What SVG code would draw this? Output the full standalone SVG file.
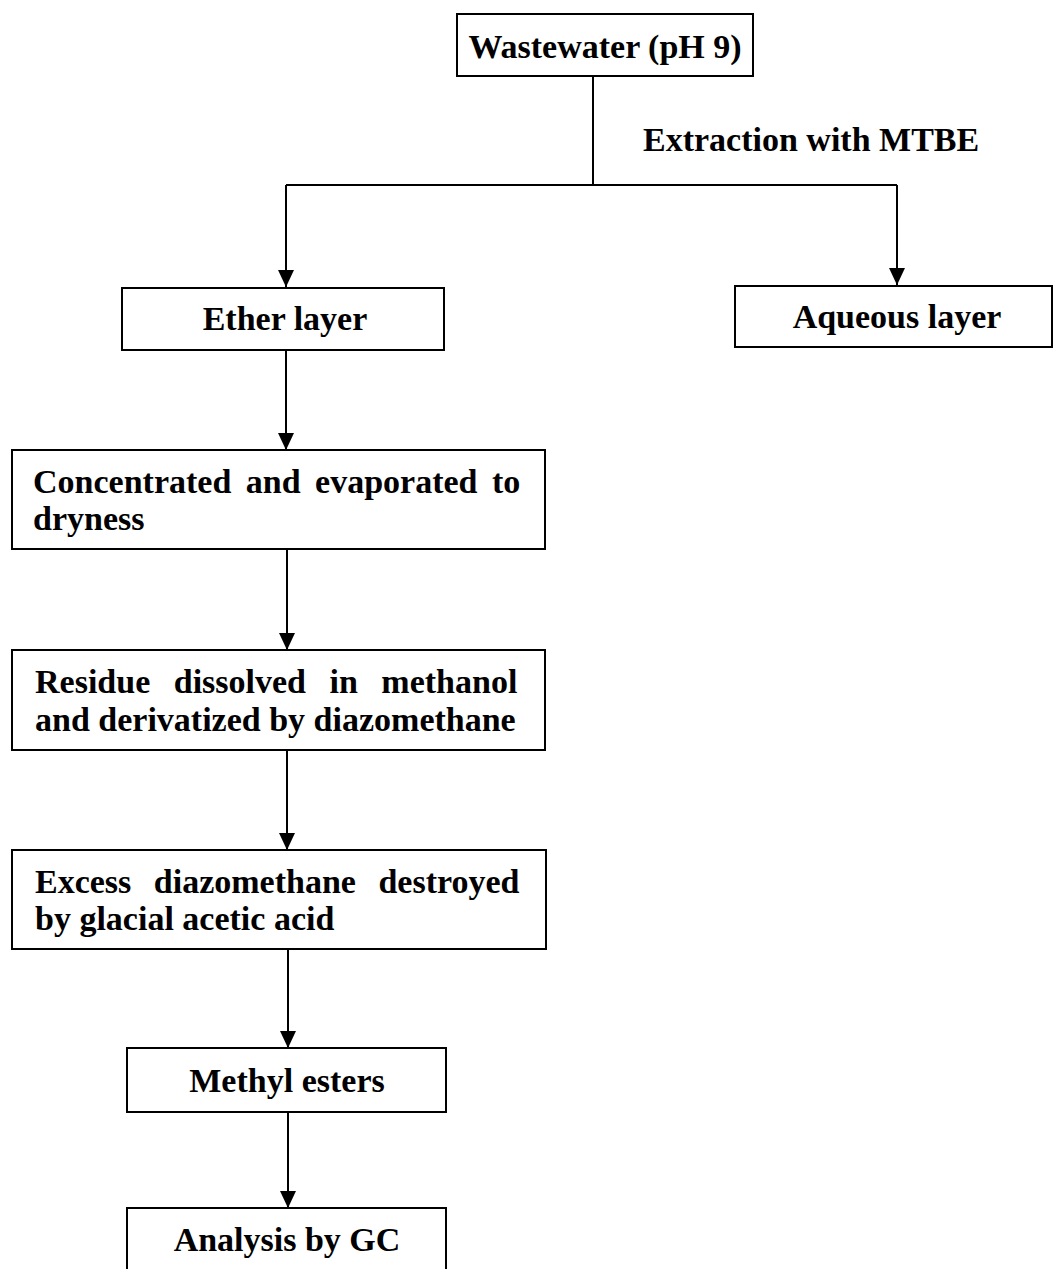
<svg xmlns="http://www.w3.org/2000/svg" width="1053" height="1269" viewBox="0 0 1053 1269">
<style>
.box{fill:#fff;stroke:#000;stroke-width:2}
.t{font-family:"Liberation Serif","Times New Roman",serif;font-weight:bold;font-size:34px;fill:#000}
.c{text-anchor:middle}
.ln{fill:none;stroke:#000;stroke-width:2}
</style>
<defs>
<marker id="ah" markerUnits="userSpaceOnUse" markerWidth="18" markerHeight="18" viewBox="0 0 18 18" refX="9" refY="17" orient="auto-start-reverse">
<path d="M1,0 L17,0 L9,17 Z" fill="#000" transform="rotate(-90 9 9)"/>
</marker>
<marker id="arr" markerUnits="userSpaceOnUse" markerWidth="18" markerHeight="18" viewBox="0 0 18 18" refX="17" refY="9" orient="auto">
<path d="M0,1 L17,9 L0,17 Z" fill="#000"/>
</marker>
</defs>
<g id="connectors">
<path class="ln" d="M593,76 V185"/>
<path class="ln" d="M286,185 H897"/>
<path class="ln" d="M286,185 V287" marker-end="url(#arr)"/>
<path class="ln" d="M897,185 V285" marker-end="url(#arr)"/>
<path class="ln" d="M286,350 V450" marker-end="url(#arr)"/>
<path class="ln" d="M287,549 V650" marker-end="url(#arr)"/>
<path class="ln" d="M287,750 V850" marker-end="url(#arr)"/>
<path class="ln" d="M288,949 V1048" marker-end="url(#arr)"/>
<path class="ln" d="M288,1112 V1208" marker-end="url(#arr)"/>
<text class="t" x="643" y="151">Extraction with MTBE</text>
</g>
<g id="wastewater">
<rect class="box" x="457" y="14" width="296" height="62"/>
<text class="t c" x="605" y="58">Wastewater (pH 9)</text>
</g>
<g id="ether">
<rect class="box" x="122" y="288" width="322" height="62"/>
<text class="t c" x="285" y="330">Ether layer</text>
</g>
<g id="aqueous">
<rect class="box" x="735" y="286" width="317" height="61"/>
<text class="t c" x="897" y="328">Aqueous layer</text>
</g>
<g id="concentrated">
<rect class="box" x="12" y="450" width="533" height="99"/>
<text class="t" x="33" y="493" word-spacing="6">Concentrated and evaporated to</text>
<text class="t" x="33" y="530">dryness</text>
</g>
<g id="residue">
<rect class="box" x="12" y="650" width="533" height="100"/>
<text class="t" x="35" y="693" word-spacing="15">Residue dissolved in methanol</text>
<text class="t" x="35" y="731">and derivatized by diazomethane</text>
</g>
<g id="excess">
<rect class="box" x="12" y="850" width="534" height="99"/>
<text class="t" x="35" y="893" word-spacing="14">Excess diazomethane destroyed</text>
<text class="t" x="35" y="930">by glacial acetic acid</text>
</g>
<g id="methyl">
<rect class="box" x="127" y="1048" width="319" height="64"/>
<text class="t c" x="287" y="1092">Methyl esters</text>
</g>
<g id="analysis">
<rect class="box" x="127" y="1208" width="319" height="70"/>
<text class="t c" x="287" y="1251">Analysis by GC</text>
</g>
</svg>
